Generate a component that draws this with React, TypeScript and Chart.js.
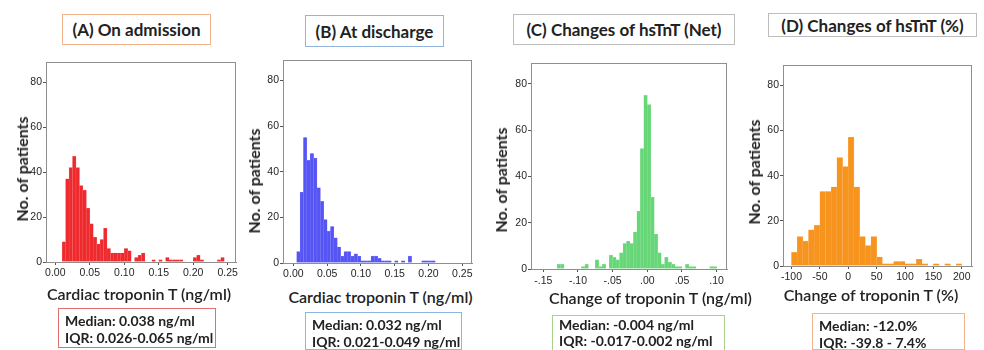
import React, { useEffect, useRef } from 'react';
import { Chart, registerables } from 'chart.js';

Chart.register(...registerables);

// ---------------- Data ----------------
const troponinBinWidth = 0.005;
const percentBinWidth = 10;

const admissionBinStart = 0.01;
const admissionCounts = [
  9, 37, 42, 47, 42, 34, 32, 24, 17, 11, 8, 10, 15, 6, 4, 4, 4, 4, 6, 5,
  0, 2, 3, 4, 0, 0, 1, 0, 1, 0, 2, 1, 1, 1, 1, 0, 0, 0, 2, 3,
  1, 0, 0, 0, 0, 1, 2, 0,
];

const dischargeBinStart = 0.005;
const dischargeCounts = [
  5, 31, 55, 45, 48, 46, 33, 27, 19, 14, 16, 11, 7, 3, 5, 5, 3, 4, 3, 1,
  1, 1, 3, 3, 2, 1, 1, 1, 0, 1, 0, 1, 0, 3, 0, 0, 0, 1, 1, 1, 1,
];

const netChangeBinStart = -0.13;
const netChangeCounts = [
  2, 2, 0, 0, 0, 0, 0, 1, 2, 0, 0, 4, 1, 2, 0, 6, 5, 4, 7, 11,
  12, 11, 16, 25, 52, 75, 71, 31, 15, 7, 2, 5, 3, 2, 1, 1, 0, 2, 1, 1,
  0, 0, 0, 0, 1, 1,
];

const percentChangeBinStart = -100;
const percentChangeCounts = [
  6, 13, 11, 16, 18, 33, 33, 35, 48, 44, 57, 35, 13, 9, 13, 4, 1, 1, 2, 2,
  1, 1, 3, 1, 0, 1, 0, 1, 0, 1,
];

const yTickValues = [0, 20, 40, 60, 80];
const troponinTickValues = [0, 0.05, 0.1, 0.15, 0.2, 0.25];
const netTickValues = [-0.15, -0.1, -0.05, 0, 0.05, 0.1];
const percentTickValues = [-100, -50, 0, 50, 100, 150, 200];

const panelTitles = [
  '(A) On admission',
  '(B) At discharge',
  '(C) Changes of hsTnT (Net)',
  '(D) Changes of hsTnT (%)',
];
const xAxisTitles = [
  'Cardiac troponin T (ng/ml)',
  'Cardiac troponin T (ng/ml)',
  'Change of troponin T (ng/ml)',
  'Change of troponin T (%)',
];
const yAxisTitle = 'No. of patients';
const statsLines = [
  ['Median: 0.038 ng/ml', 'IQR: 0.026-0.065 ng/ml'],
  ['Median: 0.032 ng/ml', 'IQR: 0.021-0.049 ng/ml'],
  ['Median: -0.004 ng/ml', 'IQR: -0.017-0.002 ng/ml'],
  ['Median: -12.0%', 'IQR: -39.8 - 7.4%'],
];

// ---------------- Helpers ----------------
const fmtFixed2 = (v: number) => v.toFixed(2);
const fmtSpss = (v: number) => {
  const s = Math.abs(v).toFixed(2).replace(/^0/, '');
  return (v < -1e-9 ? '-' : '') + s;
};
const fmtInt = (v: number) => String(Math.round(v));

const framePlugin = {
  id: 'frameBox',
  afterDraw(chart: any) {
    const { ctx, chartArea } = chart;
    const { left, top, right, bottom } = chartArea;
    ctx.save();
    ctx.strokeStyle = '#8e8e8e';
    ctx.lineWidth = 1;
    ctx.strokeRect(Math.round(left) + 0.5, Math.round(top) + 0.5, Math.round(right - left) - 1, Math.round(bottom - top));
    ctx.restore();
  },
};

type Frame = { l: number; t: number; r: number; b: number };

type HistProps = {
  frame: Frame;
  xMin: number;
  xMax: number;
  counts: number[];
  binStart: number;
  binWidth: number;
  xTicks: number[];
  fmt: (v: number) => string;
  color: string;
  edge: string;
  xPad: number;
};

const Y_W = 30;
const X_H = 24;
const PAD_T = 8;
const PAD_R = 10;

function Histogram(p: HistProps) {
  const ref = useRef<HTMLCanvasElement | null>(null);
  const left = p.frame.l - Y_W;
  const top = p.frame.t - PAD_T;
  const width = p.frame.r + PAD_R - left;
  const height = p.frame.b + X_H - top;

  useEffect(() => {
    if (!ref.current) return;
    const data = p.counts.map((c, i) => ({ x: p.binStart + (i + 0.5) * p.binWidth, y: c }));
    const tickFont = { family: '"Liberation Sans", Arial, sans-serif', size: 10.5 };
    const chart = new Chart(ref.current, {
      type: 'bar',
      data: {
        datasets: [
          {
            data: data as any,
            backgroundColor: p.color,
            borderColor: p.edge,
            borderWidth: 0.4,
            borderSkipped: 'start',
            barPercentage: 1,
            categoryPercentage: 1,
          } as any,
        ],
      },
      options: {
        animation: false,
        responsive: false,
        maintainAspectRatio: false,
        layout: { padding: { top: PAD_T, right: PAD_R, left: 0, bottom: 0 } },
        plugins: { legend: { display: false }, tooltip: { enabled: false }, title: { display: false } },
        scales: {
          x: {
            type: 'linear',
            min: p.xMin,
            max: p.xMax,
            offset: false,
            afterBuildTicks: (s: any) => {
              s.ticks = p.xTicks.map((v) => ({ value: v }));
            },
            afterFit: (s: any) => {
              s.height = X_H;
            },
            ticks: {
              callback: (v: any) => p.fmt(Number(v)),
              font: tickFont,
              color: '#262626',
              padding: p.xPad,
              maxRotation: 0,
              autoSkip: false,
            },
            grid: { display: true, drawOnChartArea: false, drawTicks: true, tickLength: 3, color: '#555', offset: false },
            border: { display: true, color: '#8e8e8e' },
          },
          y: {
            type: 'linear',
            min: 0,
            max: 89,
            afterBuildTicks: (s: any) => {
              s.ticks = yTickValues.map((v) => ({ value: v }));
            },
            afterFit: (s: any) => {
              s.width = Y_W;
            },
            ticks: { font: tickFont, color: '#262626', padding: 1 },
            grid: { display: true, drawOnChartArea: false, drawTicks: true, tickLength: 3, color: '#555' },
            border: { display: true, color: '#8e8e8e' },
          },
        },
      } as any,
      plugins: [framePlugin],
    });
    return () => chart.destroy();
  }, []);

  return (
    <canvas
      ref={ref}
      width={width}
      height={height}
      style={{ position: 'absolute', left, top, width, height }}
    />
  );
}

const calibriLike = 'Lato, "Open Sans", sans-serif';

function TitleBox({ l, t, r, b, border, text }: any) {
  return (
    <div
      style={{
        position: 'absolute',
        left: l,
        top: t,
        width: r - l,
        height: b - t,
        boxSizing: 'border-box',
        border: `1.5px solid ${border}`,
        display: 'flex',
        alignItems: 'center',
        justifyContent: 'center',
        fontFamily: calibriLike,
        fontWeight: 700,
        fontSize: 17,
        color: '#222',
        whiteSpace: 'nowrap',
        background: '#fff',
      }}
    >
      {text}
    </div>
  );
}

function StatsBox({ l, t, r, b, border, lines, padTop, lh }: any) {
  return (
    <div
      style={{
        position: 'absolute',
        left: l,
        top: t,
        width: r - l,
        height: b - t,
        boxSizing: 'border-box',
        border: `1.5px solid ${border}`,
        paddingLeft: 6,
        paddingTop: padTop ?? 3,
        fontFamily: calibriLike,
        fontWeight: 700,
        fontSize: 14,
        lineHeight: `${lh ?? 17}px`,
        color: '#222',
        whiteSpace: 'nowrap',
      }}
    >
      <div>{lines[0]}</div>
      <div>{lines[1]}</div>
    </div>
  );
}

function XTitle({ l, r, cy, text }: any) {
  return (
    <div
      style={{
        position: 'absolute',
        left: l,
        top: cy - 10,
        width: r - l,
        height: 20,
        lineHeight: '20px',
        textAlign: 'center',
        fontFamily: calibriLike,
        fontWeight: 600,
        fontSize: 16,
        color: '#222',
        whiteSpace: 'nowrap',
      }}
    >
      {text}
    </div>
  );
}

function YTitle({ cx, cy, text }: any) {
  return (
    <div
      style={{
        position: 'absolute',
        left: cx,
        top: cy,
        transform: 'translate(-50%, -50%) rotate(-90deg)',
        fontFamily: calibriLike,
        fontWeight: 700,
        fontSize: 16,
        lineHeight: '18px',
        color: '#222',
        whiteSpace: 'nowrap',
      }}
    >
      {text}
    </div>
  );
}

export default function App() {
  return (
    <div style={{ position: 'absolute', left: 0, top: 0, width: 984, height: 350, background: '#fff', overflow: 'hidden' }}>
      {/* Panel A */}
      <TitleBox l={62} t={14} r={211} b={45} border="#f2b48c" text={panelTitles[0]} />
      <Histogram
        frame={{ l: 46, t: 62, r: 236, b: 262 }}
        xMin={-0.0135}
        xMax={0.262}
        counts={admissionCounts}
        binStart={admissionBinStart}
        binWidth={troponinBinWidth}
        xTicks={troponinTickValues}
        fmt={fmtFixed2}
        color="#ee2a2e"
        edge="#f77477"
        xPad={2}
      />
      <YTitle cx={22} cy={169} text={yAxisTitle} />
      <XTitle l={40} r={238} cy={294} text={xAxisTitles[0]} />
      <StatsBox l={58} t={308} r={216} b={348} border="#e07070" lines={statsLines[0]} />

      {/* Panel B */}
      <TitleBox l={305} t={15} r={444} b={47} border="#8fb4de" text={panelTitles[1]} />
      <Histogram
        frame={{ l: 283, t: 60, r: 472, b: 263 }}
        xMin={-0.0153}
        xMax={0.2644}
        counts={dischargeCounts}
        binStart={dischargeBinStart}
        binWidth={troponinBinWidth}
        xTicks={troponinTickValues}
        fmt={fmtFixed2}
        color="#5555f5"
        edge="#8888f8"
        xPad={2}
      />
      <YTitle cx={254} cy={181} text={yAxisTitle} />
      <XTitle l={280} r={481} cy={297} text={xAxisTitles[1]} />
      <StatsBox l={305} t={312} r={462} b={350} border="#8fb4de" lines={statsLines[1]} />

      {/* Panel C */}
      <TitleBox l={513} t={14} r={735} b={45} border="#bdbdbd" text={panelTitles[2]} />
      <Histogram
        frame={{ l: 531, t: 63, r: 727, b: 269 }}
        xMin={-0.1677}
        xMax={0.1149}
        counts={netChangeCounts}
        binStart={netChangeBinStart}
        binWidth={troponinBinWidth}
        xTicks={netTickValues}
        fmt={fmtSpss}
        color="#66d677"
        edge="#98e3a4"
        xPad={3}
      />
      <YTitle cx={501} cy={180} text={yAxisTitle} />
      <XTitle l={549} r={749} cy={298} text={xAxisTitles[2]} />
      <StatsBox l={552} t={315} r={725} b={352} border="#a9d18e" lines={statsLines[2]} padTop={1} lh={16} />

      {/* Panel D */}
      <TitleBox l={768} t={13} r={977} b={37} border="#bdbdbd" text={panelTitles[3]} />
      <Histogram
        frame={{ l: 783, t: 65, r: 972, b: 266 }}
        xMin={-115}
        xMax={218}
        counts={percentChangeCounts}
        binStart={percentChangeBinStart}
        binWidth={percentBinWidth}
        xTicks={percentTickValues}
        fmt={fmtInt}
        color="#f7941e"
        edge="#fab465"
        xPad={2}
      />
      <YTitle cx={754} cy={172} text={yAxisTitle} />
      <XTitle l={771} r={971} cy={295} text={xAxisTitles[3]} />
      <StatsBox l={812} t={313} r={965} b={350} border="#f2b48c" lines={statsLines[3]} />
    </div>
  );
}
